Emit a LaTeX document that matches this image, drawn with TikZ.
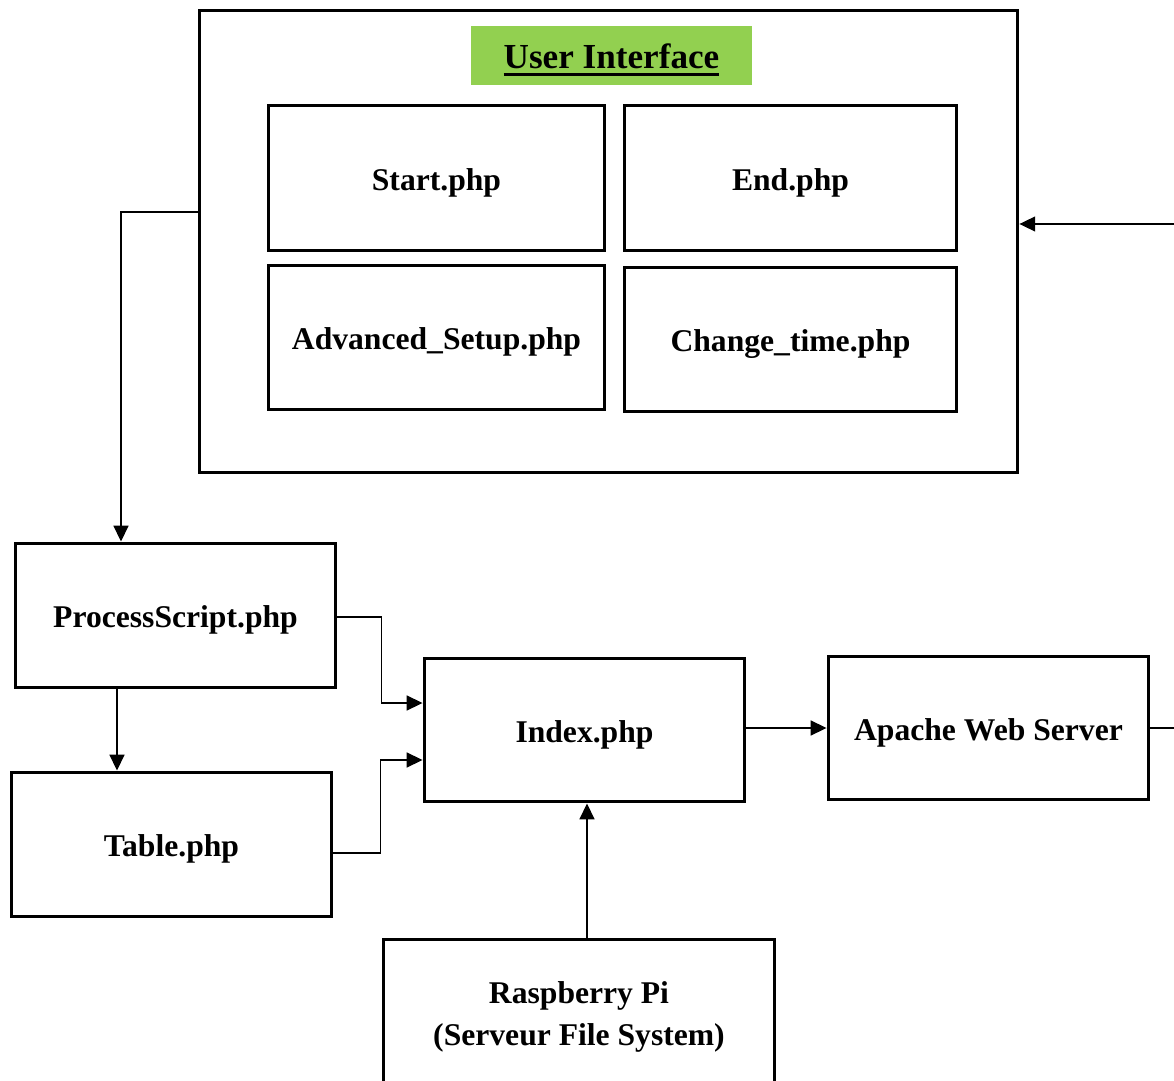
\documentclass[tikz,border=0pt]{standalone}
\usepackage{fontspec}
\setmainfont{Liberation Serif}
\usetikzlibrary{arrows.meta}
\definecolor{uigreen}{HTML}{92D050}
\newcommand\thickul[1]{\setbox0\hbox{#1}\rlap{\rule[-4.4pt]{\wd0}{1.7pt}}\box0}

\begin{document}
\begin{tikzpicture}[x=0.02cm,y=-0.02cm,
  box/.style={draw,line width=1.7pt,font=\fontsize{18}{24}\selectfont\bfseries,align=center,inner sep=0pt,text height=14pt,text depth=0pt},
  conn/.style={line width=0.8pt,-{Triangle[length=9pt,width=8.5pt]}}]
\useasboundingbox (0,0) rectangle (1174,1081);
\clip (0,0) rectangle (1174,1081);
% user interface block
\node[box,minimum width=16.38cm,minimum height=9.26cm] (ui) at (608.5,241.5) {};
\node[fill=uigreen,minimum width=5.62cm,minimum height=1.18cm,inner sep=0pt,text height=14.8pt,text depth=0pt,font=\fontsize{20}{24}\selectfont\bfseries] (title) at (611.5,55.5) {\thickul{User Interface}};
\foreach \n/\x/\y/\w/\t in {start/436.5/178/6.74/Start.php,endphp/790.5/178/6.66/End.php,adv/436.5/337.5/6.74/Advanced\_Setup.php,chg/790.5/339.5/6.66/Change\_time.php}
  \node[box,minimum width=\w cm,minimum height=2.9cm] (\n) at (\x,\y) {\t};
% server side
\node[box,minimum width=6.42cm,minimum height=2.9cm] (proc) at (175.5,615.5) {ProcessScript.php};
\node[box,minimum width=6.42cm,minimum height=2.9cm] (table) at (171.5,844.5) {Table.php};
\node[box,minimum width=6.42cm,minimum height=2.88cm] (index) at (584.5,730) {Index.php};
\node[box,minimum width=6.42cm,minimum height=2.88cm] (apache) at (988.5,728) {Apache Web Server};
\node[box,minimum width=7.84cm,minimum height=2.96cm,text height=37pt] (rpi) at (579,1013) {Raspberry Pi\\(Serveur File System)};
\coordinate (backin) at (1190,224);
\coordinate (apout) at (1190,728);
% connectors
\draw[conn] (ui.west |- 0,212) -| (121,0 |- proc.north);
\draw[conn] (117,0 |- proc.south) -- (117,0 |- table.north);
\draw[conn] ([yshift=-0.03cm]proc.east) -- ++(44,0) |- ([yshift=0.54cm]index.west);
\draw[conn] ([yshift=-0.17cm]table.east) -- ++(47,0) |- ([yshift=-0.6cm]index.west);
\draw[conn] ([yshift=0.04cm]index.east) -- ([yshift=0.04cm]index.east -| apache.west);
\draw[conn] ([xshift=0.05cm]index.south |- rpi.north) -- ([xshift=0.05cm]index.south);
\draw[line width=0.8pt] (apache.east) -- (apout);
\draw[conn] (backin) -- (backin -| ui.east);
\end{tikzpicture}
\end{document}
